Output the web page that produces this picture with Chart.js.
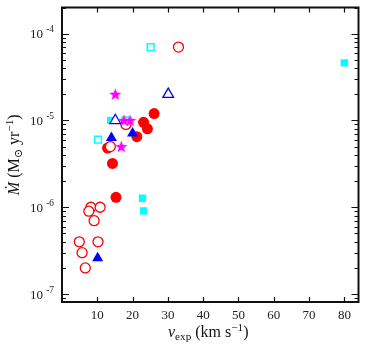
<!DOCTYPE html>
<html lang="en">
<head>
    <meta charset="UTF-8">
    <title>Mass-loss rate vs expansion velocity</title>
    <script src="https://cdn.jsdelivr.net/npm/chart.js"></script>
    <style>
        body { margin: 0; background: #fff; }
        canvas { display: block; }
    </style>
</head>
<body>
    <canvas id="mdotChart" width="366" height="349"></canvas>
    <script>
        // values (x: km/s, y: Msun/yr)
        const redOpenX = [33, 18.1, 13.7, 8.2, 10.8, 7.6, 9.1, 4.9, 10.2, 5.7, 6.6];
        const redOpenY = [7e-5, 9e-6, 5e-6, 1e-6, 1e-6, 9e-7, 7e-7, 4e-7, 4e-7, 3e-7, 2e-7];
        const redFilledX = [26.1, 23.1, 24.2, 21.2, 12.9, 14.3, 15.3];
        const redFilledY = [1.2e-5, 9.5e-6, 8e-6, 6.5e-6, 4.8e-6, 3.2e-6, 1.3e-6];
        const cyanOpenX = [25.1, 10.2, 18];
        const cyanOpenY = [7e-5, 6e-6, 1e-5];
        const cyanFilledX = [80, 22.8, 23.1, 13.8];
        const cyanFilledY = [4.6e-5, 1.27e-6, 9.1e-7, 1e-5];
        const blueOpenX = [30.1, 15.1];
        const blueOpenY = [2e-5, 1e-5];
        const blueFilledX = [14, 20, 10.1];
        const blueFilledY = [6.3e-6, 7.1e-6, 2.6e-7];
        const starX = [15.1, 16.8, 17.6, 19.3];
        const starY = [2e-5, 5e-6, 1e-5, 1e-5];

        const xTickValues = [10, 20, 30, 40, 50, 60, 70, 80];
        const yTickValues = [1e-7, 1e-6, 1e-5, 1e-4];
        const yTickExponents = ['-7', '-6', '-5', '-4'];
        const minorMultipliers = [2, 3, 4, 5, 6, 7, 8, 9];

        const SERIF = '"Liberation Serif", "DejaVu Serif", serif';

        function pts(xs, ys) {
            return xs.map((x, i) => ({ x: x, y: ys[i] }));
        }

        // filled five-point star used as a point image
        function makeStar(size, color) {
            const c = document.createElement('canvas');
            c.width = size; c.height = size;
            const g = c.getContext('2d');
            const cx = size / 2, cy = size / 2 + 0.5;
            const outer = size / 2, inner = outer * 0.42;
            g.beginPath();
            for (let i = 0; i < 10; i++) {
                const r = i % 2 === 0 ? outer : inner;
                const a = -Math.PI / 2 + i * Math.PI / 5;
                g.lineTo(cx + r * Math.cos(a), cy + r * Math.sin(a));
            }
            g.closePath();
            g.fillStyle = color;
            g.fill();
            return c;
        }

        // draws a run of text pieces: [text, style, sizeScale, baselineShift]
        // align: 0 = centred on origin, 1 = right edge at origin
        function drawRuns(ctx, runs, baseSize, align) {
            let total = 0;
            runs.forEach(r => {
                ctx.font = `${r[1]} ${baseSize * r[2]}px ${SERIF}`;
                r.w = ctx.measureText(r[0]).width;
                total += r.w;
            });
            let x = align ? -total : -total / 2;
            runs.forEach(r => {
                ctx.font = `${r[1]} ${baseSize * r[2]}px ${SERIF}`;
                ctx.fillText(r[0], x, r[3]);
                x += r.w;
            });
        }

        const framePlugin = {
            id: 'frame',
            afterDraw(chart) {
                const ctx = chart.ctx;
                const a = chart.chartArea;
                const xs = chart.scales.x, ys = chart.scales.y;
                ctx.save();
                ctx.strokeStyle = '#111';
                ctx.lineWidth = 1.2;
                ctx.beginPath();
                xTickValues.forEach(v => {
                    const p = Math.round(xs.getPixelForValue(v)) + 0.5;
                    ctx.moveTo(p, a.bottom); ctx.lineTo(p, a.bottom - 5);
                    ctx.moveTo(p, a.top); ctx.lineTo(p, a.top + 5);
                });
                for (let e = -8; e <= -4; e++) {
                    const dec = Math.pow(10, e);
                    [[1, 7]].concat(minorMultipliers.map(m => [m, 4])).forEach(([m, len]) => {
                        const v = m * dec;
                        if (v < ys.min || v > ys.max) return;
                        const p = Math.round(ys.getPixelForValue(v)) + 0.5;
                        ctx.moveTo(a.left, p); ctx.lineTo(a.left + len, p);
                        ctx.moveTo(a.right, p); ctx.lineTo(a.right - len, p);
                    });
                }
                ctx.stroke();
                ctx.lineWidth = 2;
                ctx.strokeRect(a.left, a.top, a.right - a.left, a.bottom - a.top);

                ctx.fillStyle = '#222';
                ctx.textBaseline = 'alphabetic';
                // y tick labels: 10 with raised exponent
                yTickValues.forEach((v, i) => {
                    ctx.save();
                    ctx.translate(a.left - 8, ys.getPixelForValue(v) + 4.5);
                    drawRuns(ctx, [
                        ['10 ', 'normal', 1, 0],
                        [yTickExponents[i], 'normal', 0.72, -6]
                    ], 13, 1);
                    ctx.restore();
                });

                // axis titles
                ctx.fillStyle = '#111';
                ctx.save();
                ctx.translate((a.left + a.right) / 2 - 2, 337);
                drawRuns(ctx, [
                    ['v', 'italic', 1, 0],
                    ['exp', 'normal', 0.7, 3],
                    [' (km s', 'normal', 1, 0],
                    ['−1', 'normal', 0.7, -6],
                    [')', 'normal', 1, 0]
                ], 16, 0);
                ctx.restore();
                ctx.save();
                ctx.translate(19, (a.top + a.bottom) / 2);
                ctx.rotate(-Math.PI / 2);
                drawRuns(ctx, [
                    ['Ṁ', 'italic', 1, 0],
                    [' (M', 'normal', 1, 0],
                    ['⊙', 'normal', 0.7, 3],
                    [' yr', 'normal', 1, 0],
                    ['−1', 'normal', 0.7, -6],
                    [')', 'normal', 1, 0]
                ], 16, 0);
                ctx.restore();
                ctx.restore();
            }
        };

        const starImg = makeStar(13, '#ff00ff');

        new Chart(document.getElementById('mdotChart'), {
            type: 'scatter',
            data: {
                datasets: [
                    { data: pts(starX, starY), pointStyle: starImg, pointRadius: 6 },
                    { data: pts(blueFilledX, blueFilledY), pointStyle: 'triangle', pointRadius: 6.4,
                      backgroundColor: '#0000ff', borderColor: '#0000ff', borderWidth: 0 },
                    { data: pts(blueOpenX, blueOpenY), pointStyle: 'triangle', pointRadius: 6.2,
                      backgroundColor: '#ffffff', borderColor: '#0000ff', borderWidth: 1.3 },
                    { data: pts(redOpenX, redOpenY), pointStyle: 'circle', pointRadius: 5,
                      backgroundColor: '#ffffff', borderColor: '#ff0000', borderWidth: 1.3 },
                    { data: pts(cyanOpenX, cyanOpenY), pointStyle: 'rect', pointRadius: 4.8,
                      backgroundColor: '#ffffff', borderColor: '#00ffff', borderWidth: 1.5 },
                    { data: pts(cyanFilledX, cyanFilledY), pointStyle: 'rect', pointRadius: 5.2,
                      backgroundColor: '#00ffff', borderColor: '#00ffff', borderWidth: 0 },
                    { data: pts(redFilledX, redFilledY), pointStyle: 'circle', pointRadius: 5.5,
                      backgroundColor: '#ff0000', borderColor: '#ff0000', borderWidth: 0 }
                ]
            },
            options: {
                responsive: false,
                animation: false,
                devicePixelRatio: 1,
                layout: { padding: { top: 2, right: 6, left: 0, bottom: 0 } },
                plugins: { legend: { display: false }, tooltip: { enabled: false } },
                events: [],
                scales: {
                    x: {
                        type: 'linear', min: 0, max: 84,
                        grid: { display: false, drawTicks: false },
                        border: { display: false },
                        afterBuildTicks: s => { s.ticks = xTickValues.map(v => ({ value: v })); },
                        afterFit: s => { s.height = 47; },
                        ticks: { padding: 6, color: '#222', font: { family: SERIF, size: 13 },
                                 callback: v => String(v) }
                    },
                    y: {
                        type: 'logarithmic', min: 8.1e-8, max: 2e-4,
                        grid: { display: false, drawTicks: false },
                        border: { display: false },
                        afterBuildTicks: s => { s.ticks = yTickValues.map(v => ({ value: v })); },
                        afterFit: s => { s.width = 62; },
                        ticks: { display: false }
                    }
                }
            },
            plugins: [framePlugin]
        });
    </script>
</body>
</html>
